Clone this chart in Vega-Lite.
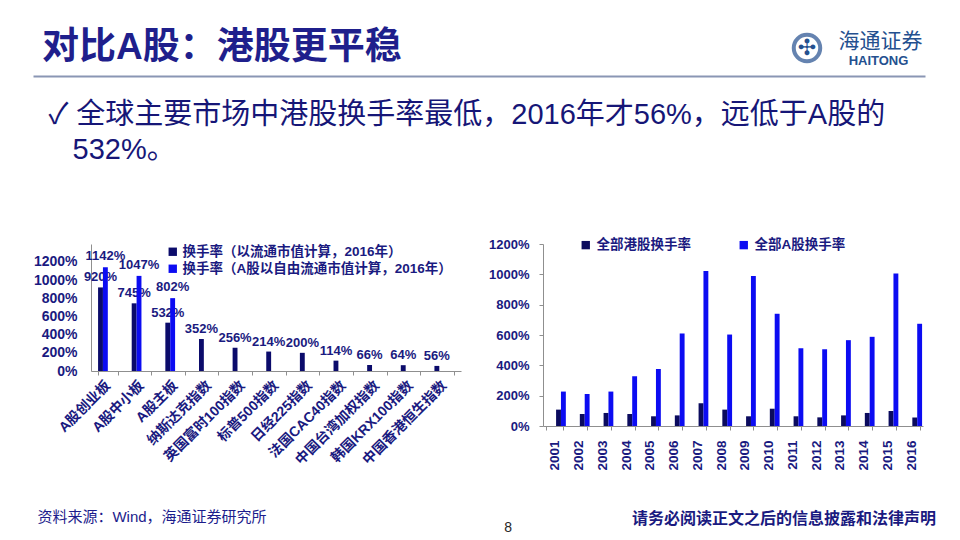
{
  "$schema": "https://vega.github.io/schema/vega-lite/v6.json",
  "background": "white",
  "padding": {"left": 33, "top": 26, "right": 4, "bottom": 4},
  "config": {
    "font": "Liberation Sans, Noto Sans CJK SC, DejaVu Sans",
    "view": {"stroke": null},
    "axis": {"grid": false, "domainColor": "#8f8f8f", "tickColor": "#8f8f8f", "labelColor": "#1a1a80", "labelFontWeight": "bold", "labelFontSize": 13},
    "legend": {"labelColor": "#1a1a80", "labelFontWeight": "bold", "labelFontSize": 13.5, "symbolType": "square", "symbolStrokeWidth": 0, "labelLimit": 400}
  },
  "title": {"text": "8", "orient": "bottom", "anchor": "middle", "fontSize": 14, "fontWeight": "normal", "color": "#262626", "offset": -6},
  "align": "none",
  "spacing": 24,
  "vconcat": [
    {
      "width": 834, "height": 0.01,
      "data": {"values": [{"heading": "对比A股：港股更平稳", "brand": "海通证券", "brand_en": "HAITONG"}]},
      "layer": [
        {
          "mark": {"type": "text", "align": "left", "baseline": "middle", "dx": 9, "dy": -28, "fontSize": 37, "fontWeight": "bold", "color": "#1f1f8c"},
          "encoding": {
            "x": {"datum": 0, "type": "quantitative", "scale": {"domain": [0, 1], "range": [-58, 834]},
                  "axis": {"title": null, "labels": false, "ticks": false, "grid": false, "domainColor": "#8a96b4", "domainWidth": 2}},
            "text": {"field": "heading"}
          }
        },
        {
          "mark": {"type": "point", "shape": "circle", "size": 700, "filled": false, "stroke": "#24508f", "strokeWidth": 4, "yOffset": -28},
          "encoding": {"x": {"datum": 0.8677, "type": "quantitative"}}
        },
        {
          "mark": {"type": "text", "text": "✣", "fontSize": 22, "color": "#24508f", "dy": -28, "baseline": "middle", "align": "center"},
          "encoding": {"x": {"datum": 0.8677, "type": "quantitative"}}
        },
        {
          "mark": {"type": "text", "fontSize": 21, "color": "#24508f", "dy": -34, "baseline": "middle", "align": "center"},
          "encoding": {"x": {"datum": 0.9501, "type": "quantitative"}, "text": {"field": "brand"}}
        },
        {
          "mark": {"type": "text", "fontSize": 13, "fontWeight": "bold", "color": "#24508f", "dy": -15, "baseline": "middle", "align": "center"},
          "encoding": {"x": {"datum": 0.9479, "type": "quantitative"}, "text": {"field": "brand_en"}}
        }
      ]
    },
    {
      "title": {"text": ["✓ 全球主要市场中港股换手率最低，2016年才56%，远低于A股的", "\u200b\u00a0\u00a0\u00a0532%。"], "anchor": "start", "frame": "bounds", "fontSize": 29, "fontWeight": "normal", "color": "#161677", "lineHeight": 35, "offset": 73, "dx": 15},
      "spacing": 27,
      "resolve": {"scale": {"color": "independent"}, "legend": {"color": "independent"}},
      "hconcat": [
        {
          "width": 370, "height": 127,
          "title": {"text": "资料来源：Wind，海通证券研究所", "orient": "bottom", "anchor": "start", "frame": "bounds", "fontSize": 15, "fontWeight": "normal", "color": "#1c1c8c", "offset": 43, "dx": 4},
          "data": {"values": [
            {"market": "A股创业板", "series": "换手率（以流通市值计算，2016年）", "value": 9.20},
            {"market": "A股创业板", "series": "换手率（A股以自由流通市值计算，2016年）", "value": 11.42},
            {"market": "A股中小板", "series": "换手率（以流通市值计算，2016年）", "value": 7.45},
            {"market": "A股中小板", "series": "换手率（A股以自由流通市值计算，2016年）", "value": 10.47},
            {"market": "A股主板", "series": "换手率（以流通市值计算，2016年）", "value": 5.32},
            {"market": "A股主板", "series": "换手率（A股以自由流通市值计算，2016年）", "value": 8.02},
            {"market": "纳斯达克指数", "series": "换手率（以流通市值计算，2016年）", "value": 3.52},
            {"market": "英国富时100指数", "series": "换手率（以流通市值计算，2016年）", "value": 2.56},
            {"market": "标普500指数", "series": "换手率（以流通市值计算，2016年）", "value": 2.14},
            {"market": "日经225指数", "series": "换手率（以流通市值计算，2016年）", "value": 2.00},
            {"market": "法国CAC40指数", "series": "换手率（以流通市值计算，2016年）", "value": 1.14},
            {"market": "中国台湾加权指数", "series": "换手率（以流通市值计算，2016年）", "value": 0.66},
            {"market": "韩国KRX100指数", "series": "换手率（以流通市值计算，2016年）", "value": 0.64},
            {"market": "中国香港恒生指数", "series": "换手率（以流通市值计算，2016年）", "value": 0.56}
          ]},
          "encoding": {
            "x": {"field": "market", "type": "nominal", "sort": null,
                  "scale": {"paddingInner": 0.42, "paddingOuter": 0.21},
                  "axis": {"title": null, "labelAngle": -45, "labelAlign": "right", "labelBaseline": "middle", "labelFontSize": 14, "labelPadding": 8, "tickBand": "extent", "tickSize": 4, "labelLimit": 250}},
            "xOffset": {"field": "series", "type": "nominal", "scale": {"domain": ["换手率（以流通市值计算，2016年）", "换手率（A股以自由流通市值计算，2016年）"], "paddingInner": 0, "paddingOuter": 0}},
            "y": {"field": "value", "type": "quantitative", "scale": {"domain": [0, 13.98], "nice": false},
                  "axis": {"title": null, "values": [0, 2, 4, 6, 8, 10, 12], "format": ".0%", "ticks": false, "labelPadding": 14, "labelFontSize": 14}},
            "color": {"field": "series", "type": "nominal",
                      "scale": {"domain": ["换手率（以流通市值计算，2016年）", "换手率（A股以自由流通市值计算，2016年）"], "range": ["#0b0b6b", "#0c0cf2"]},
                      "legend": {"title": null, "orient": "none", "legendX": 75, "legendY": 1, "direction": "vertical", "symbolSize": 70, "rowPadding": 2, "labelOffset": 3}}
          },
          "layer": [
            {"transform": [{"filter": {"field": "series", "equal": "换手率（以流通市值计算，2016年）"}}], "mark": {"type": "bar"}},
            {"transform": [{"filter": {"field": "series", "equal": "换手率（以流通市值计算，2016年）"}}],
             "mark": {"type": "text", "baseline": "bottom", "dy": -3, "fontSize": 13, "fontWeight": "bold"},
             "encoding": {"text": {"field": "value", "type": "quantitative", "format": ".0%"}, "color": {"value": "#1a1a80"}}},
            {"transform": [{"filter": {"field": "series", "equal": "换手率（A股以自由流通市值计算，2016年）"}}], "mark": {"type": "bar"}},
            {"transform": [{"filter": {"field": "series", "equal": "换手率（A股以自由流通市值计算，2016年）"}}],
             "mark": {"type": "text", "baseline": "bottom", "dy": -4, "fontSize": 13, "fontWeight": "bold"},
             "encoding": {"text": {"field": "value", "type": "quantitative", "format": ".0%"}, "color": {"value": "#1a1a80"}}}
          ]
        },
        {
          "width": 380, "height": 182,
          "title": {"text": "请务必阅读正文之后的信息披露和法律声明", "orient": "bottom", "anchor": "end", "frame": "group", "fontSize": 16, "fontWeight": "bold", "color": "#1a1a80", "offset": 41, "dx": 13},
          "data": {"values": [
            {"year": "2001", "series": "全部港股换手率", "turnover": 1.08},
            {"year": "2002", "series": "全部港股换手率", "turnover": 0.79},
            {"year": "2003", "series": "全部港股换手率", "turnover": 0.86},
            {"year": "2004", "series": "全部港股换手率", "turnover": 0.79},
            {"year": "2005", "series": "全部港股换手率", "turnover": 0.64},
            {"year": "2006", "series": "全部港股换手率", "turnover": 0.70},
            {"year": "2007", "series": "全部港股换手率", "turnover": 1.50},
            {"year": "2008", "series": "全部港股换手率", "turnover": 1.08},
            {"year": "2009", "series": "全部港股换手率", "turnover": 0.64},
            {"year": "2010", "series": "全部港股换手率", "turnover": 1.14},
            {"year": "2011", "series": "全部港股换手率", "turnover": 0.64},
            {"year": "2012", "series": "全部港股换手率", "turnover": 0.57},
            {"year": "2013", "series": "全部港股换手率", "turnover": 0.70},
            {"year": "2014", "series": "全部港股换手率", "turnover": 0.86},
            {"year": "2015", "series": "全部港股换手率", "turnover": 0.99},
            {"year": "2016", "series": "全部港股换手率", "turnover": 0.56},
            {"year": "2001", "series": "全部A股换手率", "turnover": 2.27},
            {"year": "2002", "series": "全部A股换手率", "turnover": 2.11},
            {"year": "2003", "series": "全部A股换手率", "turnover": 2.27},
            {"year": "2004", "series": "全部A股换手率", "turnover": 3.28},
            {"year": "2005", "series": "全部A股换手率", "turnover": 3.76},
            {"year": "2006", "series": "全部A股换手率", "turnover": 6.10},
            {"year": "2007", "series": "全部A股换手率", "turnover": 10.22},
            {"year": "2008", "series": "全部A股换手率", "turnover": 6.03},
            {"year": "2009", "series": "全部A股换手率", "turnover": 9.89},
            {"year": "2010", "series": "全部A股换手率", "turnover": 7.40},
            {"year": "2011", "series": "全部A股换手率", "turnover": 5.13},
            {"year": "2012", "series": "全部A股换手率", "turnover": 5.06},
            {"year": "2013", "series": "全部A股换手率", "turnover": 5.66},
            {"year": "2014", "series": "全部A股换手率", "turnover": 5.88},
            {"year": "2015", "series": "全部A股换手率", "turnover": 10.06},
            {"year": "2016", "series": "全部A股换手率", "turnover": 6.74}
          ]},
          "mark": {"type": "bar"},
          "encoding": {
            "x": {"field": "year", "type": "ordinal",
                  "scale": {"paddingInner": 0.28, "paddingOuter": 0.14},
                  "axis": {"title": null, "labelAngle": -90, "labelAlign": "right", "labelBaseline": "middle", "labelFontSize": 13.5, "labelPadding": 10, "tickBand": "extent", "tickSize": 4}},
            "xOffset": {"field": "series", "type": "nominal", "scale": {"domain": ["全部港股换手率", "全部A股换手率"], "paddingInner": 0, "paddingOuter": 0}},
            "y": {"field": "turnover", "type": "quantitative", "scale": {"domain": [0, 12], "nice": false},
                  "axis": {"title": null, "values": [0, 2, 4, 6, 8, 10, 12], "format": ".0%", "tickSize": 4, "labelPadding": 10}},
            "color": {"field": "series", "type": "nominal",
                      "scale": {"domain": ["全部港股换手率", "全部A股换手率"], "range": ["#0b0b5e", "#0c0cf2"]},
                      "legend": {"title": null, "orient": "none", "legendX": 36, "legendY": -6, "direction": "horizontal", "symbolSize": 70, "columnPadding": 46, "labelOffset": 4, "labelFontSize": 13.5}}
          }
        }
      ]
    }
  ]
}
